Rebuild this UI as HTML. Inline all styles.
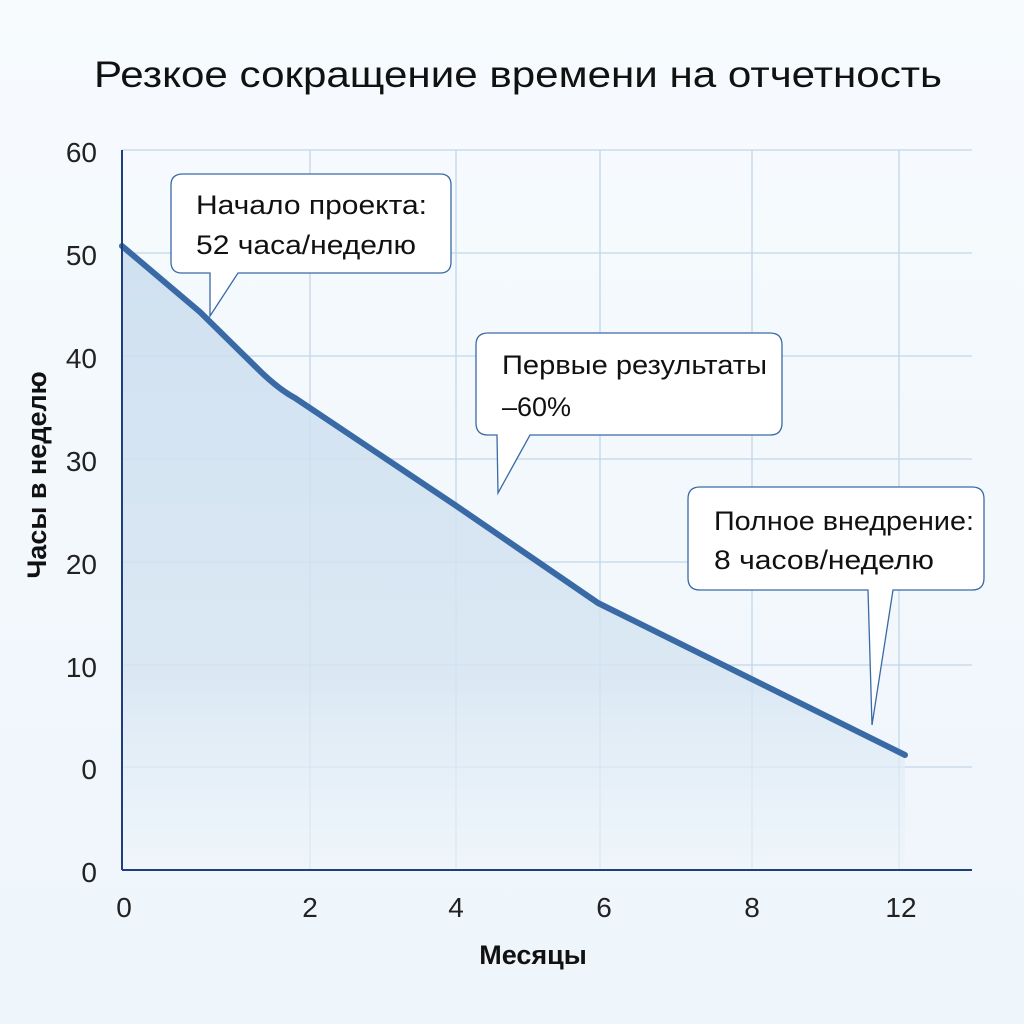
<!DOCTYPE html>
<html><head><meta charset="utf-8"><style>
body{margin:0;width:1024px;height:1024px;overflow:hidden;background:linear-gradient(180deg,#f7fbfe,#eef5fb);font-family:"Liberation Sans","DejaVu Sans",sans-serif;}
</style></head><body>
<svg width="1024" height="1024" xmlns="http://www.w3.org/2000/svg" style="position:absolute;left:0;top:0">
<defs>
<linearGradient id="f" x1="0" y1="0" x2="0" y2="1">
<stop offset="0" stop-color="#c9dcee" stop-opacity="0.85"/>
<stop offset="0.7" stop-color="#d6e5f2" stop-opacity="0.8"/>
<stop offset="1" stop-color="#eef5fb" stop-opacity="0.6"/>
</linearGradient>
</defs>
<text x="94" y="87" font-size="37" textLength="848" lengthAdjust="spacingAndGlyphs" fill="#111">Резкое сокращение времени на отчетность</text>
<g stroke="#c3d6e8" stroke-width="1.3">
<line x1="122" y1="150" x2="972" y2="150"/><line x1="122" y1="253" x2="972" y2="253"/>
<line x1="122" y1="356" x2="972" y2="356"/><line x1="122" y1="459" x2="972" y2="459"/>
<line x1="122" y1="562" x2="972" y2="562"/><line x1="122" y1="665" x2="972" y2="665"/>
<line x1="122" y1="767" x2="972" y2="767"/>
<line x1="310" y1="150" x2="310" y2="870"/><line x1="456" y1="150" x2="456" y2="870"/>
<line x1="600" y1="150" x2="600" y2="870"/><line x1="752" y1="150" x2="752" y2="870"/>
<line x1="899" y1="150" x2="899" y2="870"/>
</g>
<path d="M122,246 L200,312 L262,373 Q280,390 295,398 L455,505 L598,603 L905,755 L905,870 L122,870 Z" fill="url(#f)"/>
<path d="M122,246 L200,312 L262,373 Q280,390 295,398 L455,505 L598,603 L905,755" fill="none" stroke="#3a6aa6" stroke-width="6" stroke-linecap="round" stroke-linejoin="round"/>
<line x1="122" y1="150" x2="122" y2="870" stroke="#1f3f7a" stroke-width="2"/>
<line x1="122" y1="870" x2="972" y2="870" stroke="#1f3f7a" stroke-width="2"/>
<g font-size="28" fill="#222" text-anchor="end">
<text x="97" y="162">60</text><text x="97" y="265">50</text><text x="97" y="368">40</text>
<text x="97" y="471">30</text><text x="97" y="574">20</text><text x="97" y="677">10</text>
<text x="97" y="779">0</text><text x="97" y="882">0</text>
</g>
<g font-size="28" fill="#222" text-anchor="middle">
<text x="124" y="917">0</text><text x="310" y="917">2</text><text x="456" y="917">4</text>
<text x="604" y="917">6</text><text x="752" y="917">8</text><text x="901" y="917">12</text>
</g>
<text x="533" y="964" font-size="27" font-weight="bold" text-anchor="middle" fill="#111">Месяцы</text>
<text transform="translate(46,475) rotate(-90)" font-size="27" font-weight="bold" text-anchor="middle" fill="#111">Часы в неделю</text>
<g fill="#fff" stroke="#3a6aa6" stroke-width="1.3">
<path d="M183,174 H440 Q451,174 451,185 V262 Q451,273 440,273 H238 L210,316 L210,273 H182 Q171,273 171,262 V185 Q171,174 183,174 Z"/>
<path d="M488,333 H770 Q782,333 782,345 V423 Q782,435 770,435 H530 L498,493 L497,435 H488 Q476,435 476,423 V345 Q476,333 488,333 Z"/>
<path d="M700,487 H972 Q984,487 984,499 V578 Q984,590 972,590 H893 L872,725 L868,590 H700 Q688,590 688,578 V499 Q688,487 700,487 Z"/>
</g>
<g font-size="27" fill="#111">
<text x="196" y="214" textLength="231" lengthAdjust="spacingAndGlyphs">Начало проекта:</text><text x="196" y="254" textLength="220" lengthAdjust="spacingAndGlyphs">52 часа/неделю</text>
<text x="502" y="374" textLength="265" lengthAdjust="spacingAndGlyphs">Первые результаты</text><text x="502" y="416">–60%</text>
<text x="714" y="530" textLength="260" lengthAdjust="spacingAndGlyphs">Полное внедрение:</text><text x="714" y="569" textLength="220" lengthAdjust="spacingAndGlyphs">8 часов/неделю</text>
</g>
</svg>
</body></html>
